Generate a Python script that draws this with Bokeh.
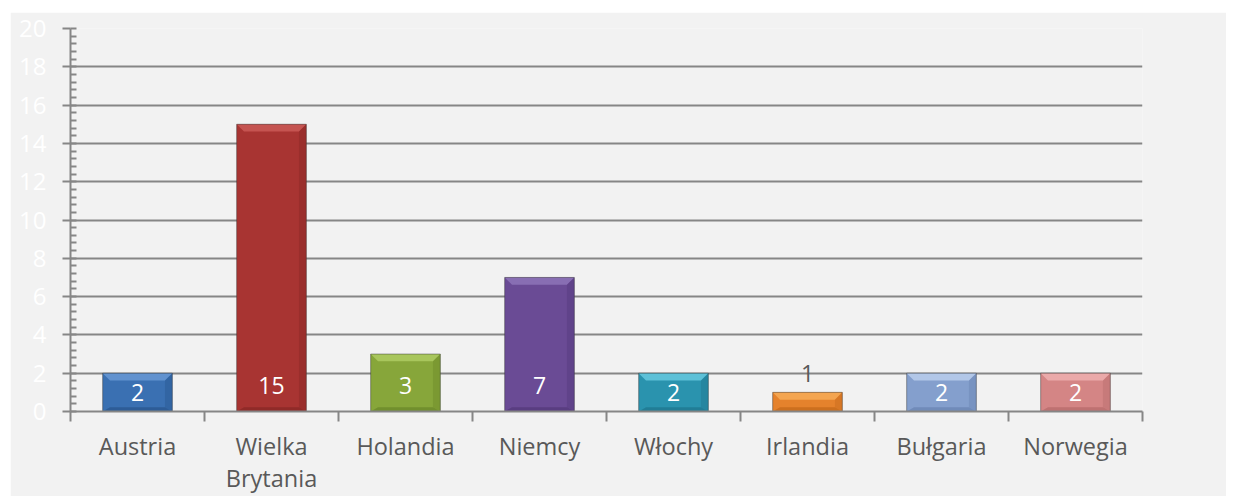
from bokeh.plotting import figure
from bokeh.models import ColumnDataSource, FixedTicker, SingleIntervalTicker, Range1d, Spacer
from bokeh.layouts import row, column
from bokeh.core.properties import value
from bokeh.embed import file_html
from bokeh.resources import INLINE

countries = ["Austria", "Wielka\nBrytania", "Holandia", "Niemcy", "Włochy", "Irlandia", "Bułgaria", "Norwegia"]
counts = [2, 15, 3, 7, 2, 1, 2, 2]
colors = ["#3a70b2", "#a83432", "#87a63a", "#6a4b95", "#2a93ae", "#e5822c", "#849fcd", "#d48585"]
tops = ["#6f9dd8", "#cf5f5c", "#b3d068", "#9379bd", "#6fd0e6", "#f8b05c", "#c2d4f0", "#f2b5b5"]
bottoms = ["#2b5890", "#8a2826", "#6c8a2a", "#553a7c", "#1f7890", "#c66a1c", "#6b86b4", "#b86c6c"]
y_ticks = [0, 2, 4, 6, 8, 10, 12, 14, 16, 18, 20]

FONT = "Open Sans"
GRAY = "#868686"
W = 0.52      # bar width (category units)
DX = 0.055    # bevel inset, x
DY = 0.38     # bevel inset, y

xs = [i + 0.5 for i in range(len(countries))]
label_y = [min(v / 2, 1.36) if v >= 2 else v + 1.0 for v in counts]
label_col = ["white" if v >= 2 else "#595959" for v in counts]

src = ColumnDataSource(dict(
    x=xs, top=counts, color=colors,
    lab=[str(v) for v in counts], ly=label_y, lc=label_col,
))

top_x = [[x - W / 2, x + W / 2, x + W / 2 - DX, x - W / 2 + DX] for x in xs]
top_y = [[v, v, v - DY, v - DY] for v in counts]
bot_x = [[x - W / 2, x + W / 2, x + W / 2 - DX, x - W / 2 + DX] for x in xs]
bot_y = [[0, 0, DY * 0.6, DY * 0.6] for v in counts]
right_x = [[x + W / 2, x + W / 2, x + W / 2 - DX, x + W / 2 - DX] for x in xs]
right_y = [[0, v, v - DY, DY * 0.6] for v in counts]

p = figure(width=1216, height=484, output_backend="svg", toolbar_location=None,
           x_range=Range1d(0, len(countries)), y_range=Range1d(0, 20),
           min_border_left=60, min_border_right=84, min_border_top=16, min_border_bottom=85)
p.background_fill_color = "#f2f2f2"
p.border_fill_color = "#f2f2f2"
p.outline_line_color = None

p.vbar(x="x", top="top", bottom=0, width=W, source=src, fill_color="color", line_color=None)
p.patches(top_x, top_y, fill_color=tops, fill_alpha=0.75, line_color=None)
p.patches(bot_x, bot_y, fill_color=bottoms, fill_alpha=0.8, line_color=None)
p.patches(right_x, right_y, fill_color=bottoms, fill_alpha=0.45, line_color=None)
p.vbar(x="x", top="top", bottom=0, width=W, source=src, fill_color=None,
       line_color="#333333", line_alpha=0.45, line_width=1)

p.text(x="x", y="ly", text="lab", source=src, text_color="lc", text_align="center",
       text_baseline="middle", text_font=value(FONT), text_font_size="23px")

# y axis
yax = p.yaxis[0]
yax.ticker = SingleIntervalTicker(interval=2, num_minor_ticks=5)
yax.major_label_text_color = "white"
yax.major_label_text_font = FONT
yax.major_label_text_font_size = "24px"
yax.major_label_standoff = 16
yax.axis_line_color = GRAY
yax.axis_line_width = 2
yax.major_tick_line_color = GRAY
yax.major_tick_line_width = 2
yax.major_tick_out = 8
yax.major_tick_in = 0
yax.minor_tick_line_color = GRAY
yax.minor_tick_line_width = 2
yax.minor_tick_in = 6
yax.minor_tick_out = 0

# x axis
xax = p.xaxis[0]
xax.ticker = FixedTicker(ticks=xs, minor_ticks=list(range(len(countries) + 1)))
xax.major_label_overrides = {x: c for x, c in zip(xs, countries)}
xax.major_label_text_color = "#595959"
xax.major_label_text_font = FONT
xax.major_label_text_font_size = "23.5px"
xax.major_label_text_line_height = 1.0
xax.major_label_standoff = 8
xax.axis_line_color = GRAY
xax.axis_line_width = 2
xax.major_tick_line_color = None
xax.major_tick_out = 10
xax.minor_tick_line_color = GRAY
xax.minor_tick_line_width = 2
xax.minor_tick_out = 10
xax.minor_tick_in = 0

p.xgrid.grid_line_color = None
p.ygrid.ticker = FixedTicker(ticks=y_ticks)
p.ygrid.grid_line_color = GRAY
p.ygrid.grid_line_width = 2

layout = row(Spacer(width=10, height=496), column(Spacer(width=1216, height=12), p))
open("out.html", "w").write(file_html(layout, INLINE))
